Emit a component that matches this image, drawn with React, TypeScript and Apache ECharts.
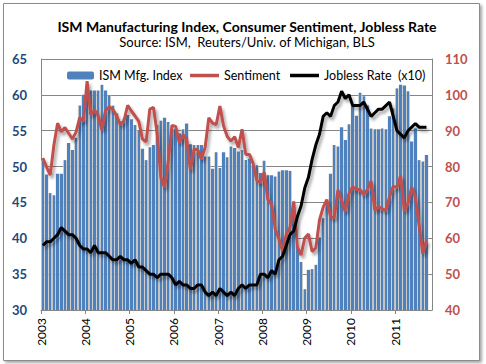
import React, { useEffect, useRef } from "react";
import * as echarts from "echarts";

const START_YEAR = 2003;
const MONTHS_ON_AXIS = 106;
const yearTicks = [0, 12, 24, 36, 48, 60, 72, 84, 96];

// ISM Manufacturing Index, monthly Jan 2003 - Sep 2011
const ism = [
  50.8, 48.9, 46.3, 46.0, 49.0, 49.0, 50.9, 53.3, 52.3, 54.0, 58.5, 60.0,
  60.2, 60.6, 60.6, 60.6, 61.4, 60.6, 59.9, 58.5, 57.4, 56.3, 56.7, 57.2,
  56.6, 55.8, 55.0, 52.5, 50.9, 52.7, 53.0, 55.8, 56.4, 56.8, 56.2, 55.3,
  55.2, 54.6, 55.2, 56.0, 53.1, 53.0, 53.0, 53.0, 51.4, 51.4, 49.7, 52.0,
  49.8, 52.0, 51.3, 52.8, 52.6, 52.1, 52.3, 50.9, 51.1, 50.0, 50.2, 49.1,
  50.8, 48.8, 48.8, 48.6, 49.3, 49.5, 49.5, 49.4, 44.9, 38.9, 36.7, 32.9,
  35.6, 35.7, 36.3, 40.1, 42.8, 44.8, 49.0, 53.0, 52.8, 55.5, 53.7, 55.9,
  58.5, 57.1, 60.3, 59.8, 58.5, 55.3, 55.2, 55.2, 55.3, 55.2, 57.0, 58.1,
  60.9, 61.4, 61.3, 60.5, 53.5, 55.3, 50.9, 50.7, 51.6,
];

// Reuters/Univ. of Michigan Consumer Sentiment
const sentiment = [
  82.4, 79.9, 77.6, 86.0, 92.1, 89.7, 90.9, 89.3, 87.7, 89.6, 93.7, 92.6,
  103.8, 94.4, 95.8, 94.2, 90.2, 95.6, 96.7, 95.9, 94.2, 91.7, 92.8, 97.1,
  95.5, 94.1, 92.6, 87.7, 86.9, 96.0, 96.5, 89.1, 76.9, 74.2, 81.6, 91.5,
  91.2, 86.7, 88.9, 87.4, 79.1, 84.9, 84.7, 82.0, 85.4, 93.6, 92.1, 91.7,
  96.9, 91.3, 88.4, 87.1, 88.3, 85.3, 90.4, 83.4, 83.4, 80.9, 76.1, 75.5,
  78.4, 70.8, 69.5, 62.6, 59.8, 56.4, 61.2, 63.0, 70.3, 57.6, 55.3, 60.1,
  61.2, 56.3, 57.3, 65.1, 68.7, 70.8, 66.0, 65.7, 73.5, 70.6, 67.4, 72.5,
  74.4, 73.6, 73.6, 72.2, 73.6, 76.0, 67.8, 68.9, 68.2, 67.7, 71.6, 74.5,
  74.2, 77.5, 67.5, 69.8, 74.3, 71.5, 63.7, 55.7, 59.4,
];

// BLS unemployment rate, percent
const jobless = [
  5.8, 5.9, 5.9, 6.0, 6.1, 6.3, 6.2, 6.1, 6.1, 6.0, 5.8, 5.7,
  5.7, 5.6, 5.8, 5.6, 5.6, 5.6, 5.5, 5.4, 5.4, 5.5, 5.4, 5.4,
  5.3, 5.4, 5.2, 5.2, 5.1, 5.0, 5.0, 4.9, 5.0, 5.0, 5.0, 4.9,
  4.7, 4.8, 4.7, 4.7, 4.6, 4.6, 4.7, 4.7, 4.5, 4.4, 4.5, 4.4,
  4.6, 4.5, 4.4, 4.5, 4.4, 4.6, 4.7, 4.6, 4.7, 4.7, 4.7, 5.0,
  5.0, 4.9, 5.1, 5.0, 5.4, 5.5, 5.8, 6.1, 6.2, 6.6, 6.9, 7.4,
  7.7, 8.2, 8.6, 8.9, 9.4, 9.5, 9.4, 9.7, 9.8, 10.1, 9.9, 10.0,
  9.7, 9.7, 9.7, 9.8, 9.6, 9.4, 9.5, 9.6, 9.6, 9.7, 9.8, 9.4,
  9.0, 8.9, 8.8, 9.0, 9.1, 9.2, 9.1, 9.1, 9.1,
];

const leftTicks = { min: 30, max: 65, interval: 5 };
const rightTicks = { min: 40, max: 110, interval: 10 };

const TITLE = "ISM Manufacturing Index, Consumer Sentiment, Jobless Rate";
const SUBTITLE = "Source: ISM,  Reuters/Univ. of Michigan, BLS";
const NAME_ISM = "ISM Mfg. Index";
const NAME_SENT = "Sentiment";
const NAME_JOB = "Jobless Rate  (x10)";

const FONT = "Lato, 'Liberation Sans', sans-serif";

export default function App() {
  const ref = useRef<HTMLDivElement>(null);
  useEffect(() => {
    if (!ref.current) return;
    const chart = echarts.init(ref.current, undefined, { renderer: "svg" });
    const barColor = new echarts.graphic.LinearGradient(0, 0, 1, 0, [
      { offset: 0, color: "#c3c3c3" },
      { offset: 0.17, color: "#c3c3c3" },
      { offset: 0.17, color: "#4f81bd" },
      { offset: 0.83, color: "#4f81bd" },
      { offset: 0.83, color: "#c3c3c3" },
      { offset: 1, color: "#c3c3c3" },
    ]);
    const lineShadow = {
      shadowColor: "rgba(0,0,0,0.35)",
      shadowBlur: 3,
      shadowOffsetX: 2,
      shadowOffsetY: 3,
    };
    const legendText = { fontSize: 12.5, color: "#000", fontFamily: FONT };
    chart.setOption({
      animation: false,
      backgroundColor: "#fff",
      textStyle: { fontFamily: FONT },
      graphic: [
        {
          type: "rect",
          shape: { x: 3.5, y: 3.5, width: 476, height: 357 },
          style: {
            fill: "#fff",
            stroke: "#8c8c8c",
            lineWidth: 1,
            shadowColor: "rgba(0,0,0,0.35)",
            shadowBlur: 3,
            shadowOffsetX: 2,
            shadowOffsetY: 2,
          },
          z: -10,
          silent: true,
        },
      ],
      title: {
        text: TITLE,
        subtext: SUBTITLE,
        left: 242,
        textAlign: "center",
        top: 14,
        itemGap: 2,
        textStyle: { fontSize: 14, fontWeight: "bold", color: "#000", fontFamily: FONT },
        subtextStyle: { fontSize: 13, color: "#000", fontFamily: FONT },
      },
      legend: [
        {
          data: [{ name: NAME_ISM, itemStyle: { color: "#4f81bd" } }],
          left: 62,
          top: 64,
          itemWidth: 27,
          itemHeight: 8,
          textStyle: legendText,
          selectedMode: false,
        },
        {
          data: [{ name: NAME_SENT, icon: "rect", itemStyle: { color: "#c0504d" } }],
          left: 185,
          top: 64,
          itemWidth: 29,
          itemHeight: 3.5,
          textStyle: legendText,
          selectedMode: false,
        },
        {
          data: [{ name: NAME_JOB, icon: "rect", itemStyle: { color: "#000" } }],
          left: 285,
          top: 64,
          itemWidth: 29,
          itemHeight: 3.5,
          textStyle: legendText,
          selectedMode: false,
        },
      ],
      grid: { left: 41, right: 54, top: 59, bottom: 54, containLabel: false },
      xAxis: {
        type: "value",
        min: 0,
        max: MONTHS_ON_AXIS,
        interval: 12,
        splitLine: { show: false },
        axisLine: { show: true, lineStyle: { color: "#868686", width: 1 } },
        axisTick: { show: true, length: 4, customValues: yearTicks, lineStyle: { color: "#868686" } },
        axisLabel: {
          customValues: yearTicks,
          rotate: 90,
          margin: 8,
          fontSize: 12,
          color: "#000",
          fontFamily: FONT,
          formatter: (v: number) => String(START_YEAR + Math.round(v / 12)),
        },
      },
      yAxis: [
        {
          type: "value",
          position: "left",
          ...leftTicks,
          axisLine: { show: true, lineStyle: { color: "#868686" } },
          axisTick: { show: false },
          splitLine: { show: true, lineStyle: { color: "#868686", width: 1 } },
          axisLabel: {
            fontSize: 13,
            fontWeight: "bold",
            color: "#1f497d",
            margin: 14,
            fontFamily: FONT,
          },
        },
        {
          type: "value",
          position: "right",
          ...rightTicks,
          axisLine: { show: true, lineStyle: { color: "#868686" } },
          axisTick: { show: false },
          splitLine: { show: false },
          axisLabel: {
            fontSize: 13,
            fontWeight: "bold",
            color: "#c0504d",
            margin: 13,
            fontFamily: FONT,
          },
        },
      ],
      series: [
        {
          name: NAME_ISM,
          type: "bar",
          yAxisIndex: 0,
          barWidth: 3.7,
          itemStyle: { color: barColor },
          data: ism.map((v, i) => [i + 0.5, v]),
          z: 1,
        },
        {
          name: NAME_SENT,
          type: "line",
          yAxisIndex: 1,
          symbol: "none",
          lineStyle: { color: "#c0504d", width: 3, ...lineShadow },
          itemStyle: { color: "#c0504d" },
          data: sentiment.map((v, i) => [i + 0.5, v]),
          z: 3,
        },
        {
          name: NAME_JOB,
          type: "line",
          yAxisIndex: 1,
          symbol: "none",
          lineStyle: { color: "#000", width: 3, ...lineShadow },
          itemStyle: { color: "#000" },
          data: jobless.map((v, i) => [i + 0.5, Math.round(v * 100) / 10]),
          z: 4,
        },
      ],
    });
    return () => chart.dispose();
  }, []);
  return (
    <div
      ref={ref}
      style={{ position: "fixed", left: 0, top: 0, width: 486, height: 364 }}
    />
  );
}
